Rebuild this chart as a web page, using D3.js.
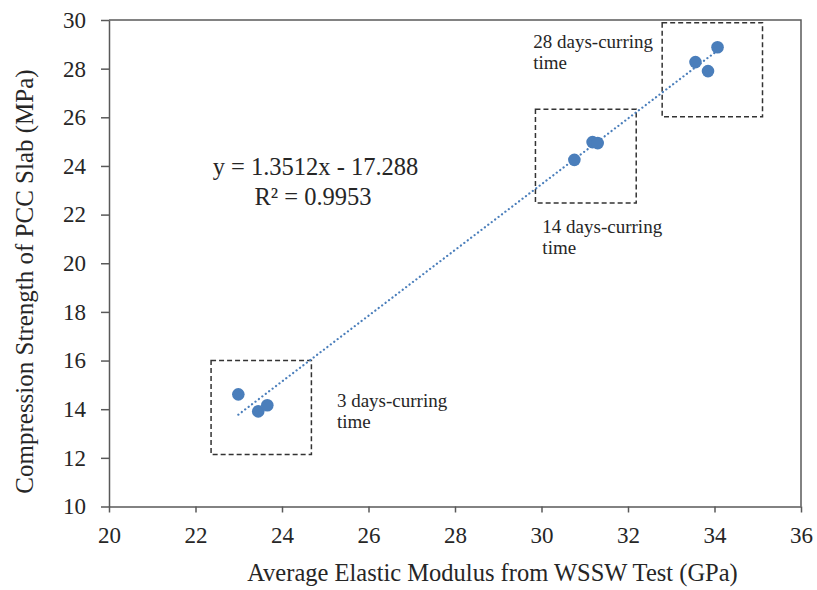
<!DOCTYPE html>
<html>
<head>
<meta charset="utf-8">
<script src="https://cdn.jsdelivr.net/npm/d3@7"></script>
<style>
  body { margin: 0; background: #fff; }
</style>
</head>
<body>
<div id="chart"></div>
<script>
// elastic modulus (GPa) vs compression strength (MPa)
var modulus = [22.99, 23.45, 23.66, 30.76, 31.18, 31.30, 33.56, 33.85, 34.07];
var strength = [14.61, 13.91, 14.16, 24.25, 24.98, 24.94, 28.27, 27.90, 28.88];

var xTicks = [20, 22, 24, 26, 28, 30, 32, 34, 36];
var yTicks = [10, 12, 14, 16, 18, 20, 22, 24, 26, 28, 30];

// curing groups: dashed box extent in data units + label anchor
var groupNames = ['3 days-curring', '14 days-curring', '28 days-curring'];
var groupBoxX = [[22.36, 24.68], [29.86, 32.19], [32.79, 35.11]];
var groupBoxY = [[12.14, 16.0], [22.48, 26.33], [26.02, 29.89]];
var groupLabelAt = [[25.27, 14.09], [30.02, 21.23], [29.81, 28.84]];

var slope = 1.3512, intercept = -17.288, r2 = 0.9953;

var FONT = '"Liberation Serif", "Times New Roman", serif';
var width = 817, height = 590;
var margin = {top: 20, right: 16, bottom: 83.5, left: 109};

var svg = d3.select('#chart').append('svg')
  .attr('width', width)
  .attr('height', height)
  .style('font-family', FONT);

var x = d3.scaleLinear().domain([20, 36]).range([margin.left, width - margin.right]);
var y = d3.scaleLinear().domain([10, 30]).range([height - margin.bottom, margin.top]);

// frame top/right
svg.append('path')
  .attr('d', 'M' + x(20) + ',' + y(30) + 'H' + x(36) + 'V' + y(10))
  .attr('fill', 'none')
  .attr('stroke', '#595959')
  .attr('stroke-width', 1.5);

var xAxis = svg.append('g')
  .attr('transform', 'translate(0,' + y(10) + ')')
  .call(d3.axisBottom(x).tickValues(xTicks).tickSize(6).tickSizeOuter(0).tickPadding(14));
var yAxis = svg.append('g')
  .attr('transform', 'translate(' + x(20) + ',0)')
  .call(d3.axisLeft(y).tickValues(yTicks).tickSize(8).tickSizeOuter(0).tickPadding(15));

[xAxis, yAxis].forEach(function(g) {
  g.attr('font-family', null).attr('font-size', null);
  g.select('.domain').attr('stroke', '#595959').attr('stroke-width', 1.5);
  g.selectAll('.tick line').attr('stroke', '#595959').attr('stroke-width', 1.5);
  g.selectAll('.tick text')
    .style('font-family', FONT)
    .style('font-size', '23px')
    .attr('fill', '#262626');
});

// dashed group boxes
svg.selectAll('rect.grp')
  .data(groupNames)
  .enter().append('rect')
  .attr('class', 'grp')
  .attr('x', function(d, i) { return x(groupBoxX[i][0]); })
  .attr('y', function(d, i) { return y(groupBoxY[i][1]); })
  .attr('width', function(d, i) { return x(groupBoxX[i][1]) - x(groupBoxX[i][0]); })
  .attr('height', function(d, i) { return y(groupBoxY[i][0]) - y(groupBoxY[i][1]); })
  .attr('fill', 'none')
  .attr('stroke', '#333')
  .attr('stroke-width', 1.5)
  .attr('stroke-dasharray', '5,3');

// trend line
var xmin = d3.min(modulus), xmax = d3.max(modulus);
svg.append('line')
  .attr('x1', x(xmin)).attr('y1', y(slope * xmin + intercept))
  .attr('x2', x(xmax)).attr('y2', y(slope * xmax + intercept))
  .attr('stroke', '#4a7ebb')
  .attr('stroke-width', 2.2)
  .attr('stroke-linecap', 'round')
  .attr('stroke-dasharray', '0.1,4.2');

// points
svg.selectAll('circle')
  .data(modulus)
  .enter().append('circle')
  .attr('cx', function(d) { return x(d); })
  .attr('cy', function(d, i) { return y(strength[i]); })
  .attr('r', 6.3)
  .attr('fill', '#4a7ebb');

// group labels
var lbl = svg.selectAll('text.grp')
  .data(groupNames)
  .enter().append('text')
  .attr('class', 'grp')
  .attr('x', function(d, i) { return x(groupLabelAt[i][0]); })
  .attr('y', function(d, i) { return y(groupLabelAt[i][1]); })
  .style('font-family', FONT)
  .style('font-size', '19px')
  .attr('fill', '#262626');
lbl.append('tspan').text(function(d) { return d; });
lbl.append('tspan')
  .attr('x', function(d, i) { return x(groupLabelAt[i][0]); })
  .attr('dy', 20.5)
  .text('time');

// equation
svg.append('text')
  .attr('x', 315.5).attr('y', 175)
  .attr('text-anchor', 'middle')
  .style('font-family', FONT)
  .style('font-size', '24.5px')
  .attr('fill', '#262626')
  .text('y = 1.3512x  - 17.288');
svg.append('text')
  .attr('x', 313).attr('y', 205)
  .attr('text-anchor', 'middle')
  .style('font-family', FONT)
  .style('font-size', '24.5px')
  .attr('fill', '#262626')
  .text('R\u00b2 = ' + r2);

// axis titles
svg.append('text')
  .attr('x', 492.5).attr('y', 581)
  .attr('text-anchor', 'middle')
  .style('font-family', FONT)
  .style('font-size', '24.5px')
  .attr('fill', '#262626')
  .text('Average Elastic Modulus from WSSW Test (GPa)');
svg.append('text')
  .attr('transform', 'translate(33,281.5) rotate(-90)')
  .attr('text-anchor', 'middle')
  .style('font-family', FONT)
  .style('font-size', '25px')
  .attr('fill', '#262626')
  .text('Compression Strength of PCC Slab (MPa)');
</script>
</body>
</html>
